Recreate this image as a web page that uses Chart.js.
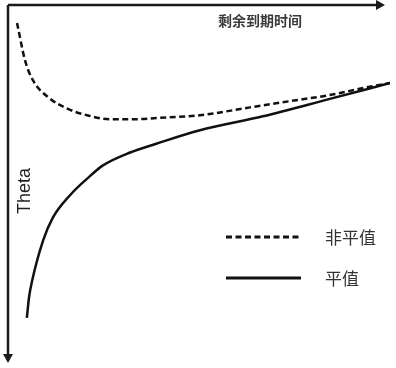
<!DOCTYPE html>
<html>
<head>
<meta charset="utf-8">
<script src="https://cdn.jsdelivr.net/npm/chart.js@4.4.1/dist/chart.umd.min.js"></script>
<style>
  html, body { margin: 0; padding: 0; background: #fff; }
  #wrap { width: 396px; height: 368px; }
</style>
</head>
<body>
<div id="wrap"><canvas id="myChart"></canvas></div>
<script>
//my data (time to expiry 0..100, theta 0..-100)
const otmTime  = [2.4, 4.5, 6.6, 11.1, 15.6, 21.0, 27.1, 33.2, 42.2, 50.9, 64.2, 76.4, 85.1, 94.2, 101.3]
const otmTheta = [-5.0, -15.4, -21.0, -26.1, -28.9, -30.8, -31.9, -31.9, -31.4, -30.8, -28.6, -26.6, -25.2, -23.2, -21.8]
const atmTime  = [5.0, 5.6, 6.4, 9.3, 11.9, 16.4, 21.0, 25.2, 32.4, 39.5, 50.9, 67.6, 85.1, 101.3]
const atmTheta = [-87.4, -81.5, -77.0, -65.8, -59.4, -53.2, -48.5, -44.8, -41.2, -38.7, -35.0, -31.1, -26.3, -21.8]
const seriesNames = ['非平值', '平值']
const xTitle = '剩余到期时间'
const yTitle = 'Theta'

const toPoints = (xs, ys) => xs.map((x, i) => ({x: x, y: ys[i]}))

/////////////////////////////////////////////////////////////
//axes with arrows + labels + legend
/////////////////////////////////////////////////////////////
const decor = {
    id: 'decor',
    afterDraw(chart) {
        const ctx = chart.ctx
        const a = chart.chartArea
        ctx.save()
        ctx.strokeStyle = '#1a1a1a'
        ctx.fillStyle = '#1a1a1a'
        ctx.lineWidth = 2.5
        // top axis
        ctx.beginPath()
        ctx.moveTo(a.left, a.top)
        ctx.lineTo(a.right - 4, a.top)
        ctx.stroke()
        ctx.beginPath()
        ctx.moveTo(a.right, a.top)
        ctx.lineTo(a.right - 9, a.top - 5)
        ctx.lineTo(a.right - 9, a.top + 5)
        ctx.closePath()
        ctx.fill()
        // left axis
        ctx.beginPath()
        ctx.moveTo(a.left, a.top)
        ctx.lineTo(a.left, a.bottom - 4)
        ctx.stroke()
        ctx.beginPath()
        ctx.moveTo(a.left, a.bottom)
        ctx.lineTo(a.left - 5, a.bottom - 9)
        ctx.lineTo(a.left + 5, a.bottom - 9)
        ctx.closePath()
        ctx.fill()

        // titles
        ctx.fillStyle = '#3a3a3a'
        ctx.font = 'bold 14px "Noto Sans CJK SC"'
        ctx.textAlign = 'center'
        ctx.textBaseline = 'middle'
        ctx.fillText(xTitle, 260, 21)
        ctx.save()
        ctx.translate(25.5, 191)
        ctx.rotate(-Math.PI / 2)
        ctx.fillStyle = '#222'
        ctx.font = '18px "Liberation Sans"'
        ctx.fillText(yTitle, 0, 0)
        ctx.restore()

        // legend
        const rows = [237, 278]
        chart.data.datasets.forEach((ds, i) => {
            ctx.strokeStyle = '#111'
            ctx.lineWidth = 3
            ctx.setLineDash(ds.borderDash || [])
            ctx.beginPath()
            ctx.moveTo(226, rows[i])
            ctx.lineTo(301, rows[i])
            ctx.stroke()
            ctx.setLineDash([])
            ctx.fillStyle = '#333'
            ctx.font = '17px "Noto Sans CJK SC"'
            ctx.textAlign = 'left'
            ctx.fillText(ds.label, 325, rows[i] + 1)
        })
        ctx.restore()
    }
}

const config = {
    type: 'line',
    data: {
        datasets: [{
            label: seriesNames[0],
            data: toPoints(otmTime, otmTheta),
            borderColor: '#111',
            borderWidth: 2.5,
            borderDash: [6, 3.5],
            pointRadius: 0,
            cubicInterpolationMode: 'monotone',
            fill: false,
            clip: false,
        }, {
            label: seriesNames[1],
            data: toPoints(atmTime, atmTheta),
            borderColor: '#111',
            borderWidth: 2.5,
            pointRadius: 0,
            cubicInterpolationMode: 'monotone',
            fill: false,
            clip: false,
        }]
    },
    plugins: [decor],
    options: {
        responsive: true,
        maintainAspectRatio: false,
        animation: false,
        layout: {padding: {left: 8, top: 5, right: 11, bottom: 5}},
        plugins: {
            legend: {display: false},
            tooltip: {enabled: false},
        },
        scales: {
            x: {type: 'linear', min: 0, max: 100, display: false},
            y: {type: 'linear', min: -100, max: 0, display: false},
        }
    }
}

// render
const myChart = new Chart(document.getElementById('myChart'), config)
</script>
</body>
</html>
